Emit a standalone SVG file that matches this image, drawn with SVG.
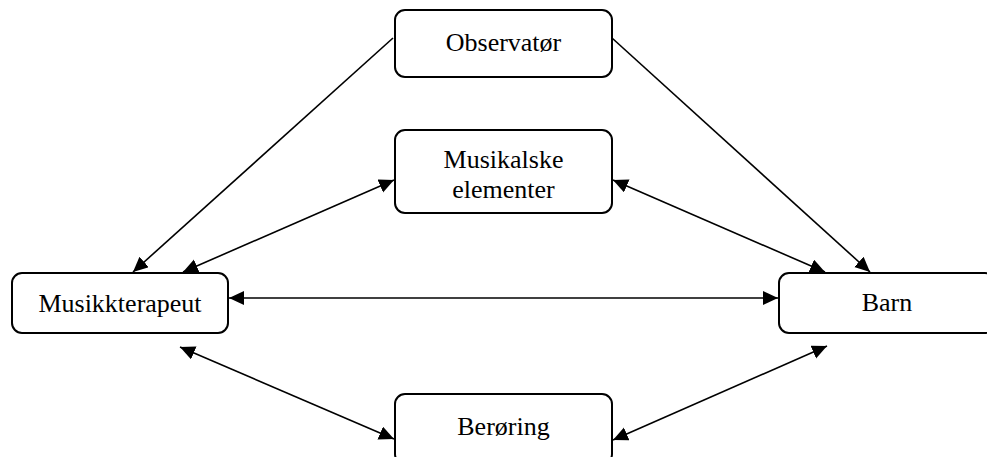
<svg xmlns="http://www.w3.org/2000/svg" width="987" height="457" viewBox="0 0 987 457">
<style>
.box{fill:#fff;stroke:#000;stroke-width:2}
.lbl{font-family:"Liberation Serif","Times New Roman",serif;font-size:26px;fill:#000;text-anchor:middle}
.ln{stroke:#000;stroke-width:1.6;fill:none}
</style>
<defs>
<marker id="ah" markerUnits="userSpaceOnUse" markerWidth="18" markerHeight="16" refX="15" refY="7" orient="auto-start-reverse">
<path d="M0,0 L15,7 L0,14 z" fill="#000"/>
</marker>
</defs>
<rect width="987" height="457" fill="#fff"/>
<g id="connectors">
<line class="ln" x1="393" y1="38" x2="133" y2="272" marker-end="url(#ah)"/>
<line class="ln" x1="612" y1="38" x2="870" y2="272" marker-end="url(#ah)"/>
<line class="ln" x1="394" y1="180" x2="183" y2="272" marker-start="url(#ah)" marker-end="url(#ah)"/>
<line class="ln" x1="613" y1="180" x2="825" y2="272" marker-start="url(#ah)" marker-end="url(#ah)"/>
<line class="ln" x1="229" y1="298" x2="778" y2="298" marker-start="url(#ah)" marker-end="url(#ah)"/>
<line class="ln" x1="394" y1="439" x2="180" y2="347" marker-start="url(#ah)" marker-end="url(#ah)"/>
<line class="ln" x1="613" y1="440" x2="827" y2="346" marker-start="url(#ah)" marker-end="url(#ah)"/>
</g>
<g id="observator">
<rect class="box" x="395" y="10" width="217" height="67" rx="10"/>
<text class="lbl" x="503.5" y="51">Observatør</text>
</g>
<g id="musikalske">
<rect class="box" x="395" y="130" width="217" height="83" rx="10"/>
<text class="lbl" x="503.5" y="168">Musikalske</text>
<text class="lbl" x="503.5" y="198">elementer</text>
</g>
<g id="musikkterapeut">
<rect class="box" x="12" y="273" width="216" height="60" rx="10"/>
<text class="lbl" x="120" y="312">Musikkterapeut</text>
</g>
<g id="barn">
<rect class="box" x="779" y="273" width="216" height="60" rx="10"/>
<text class="lbl" x="887" y="311">Barn</text>
</g>
<g id="beroring">
<rect class="box" x="395" y="394" width="217" height="70" rx="10"/>
<text class="lbl" x="503.5" y="435">Berøring</text>
</g>
</svg>
